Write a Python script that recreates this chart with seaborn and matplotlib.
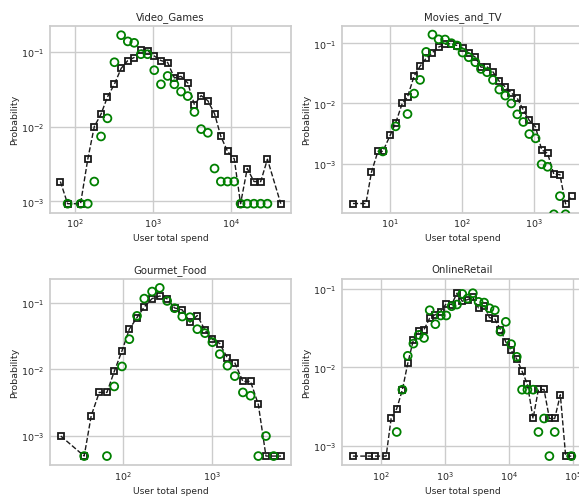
import numpy as np
import pandas as pd
import matplotlib
matplotlib.use("Agg")
import matplotlib.pyplot as plt
import seaborn as sns

sns.set_theme(style="whitegrid")
plt.rcParams['font.family'] = ['DejaVu Sans']

nan = np.nan

# Video_Games
vg_x = [65, 80.5, 118, 146, 177, 216, 261, 321, 391, 476, 575, 700, 853, 1040, 1267, 1545,
        1883, 2293, 2793, 3406, 4150, 5058, 6166, 7430, 9060, 11040, 13300, 16200, 19770,
        24100, 29400, 43600]
vg_sq = [0.00184, 0.00093, 0.00093, 0.00366, 0.0100, 0.0147, 0.0249, 0.0370, 0.0600, 0.0765,
         0.0840, 0.105, 0.104, 0.088, 0.0765, 0.072, 0.0448, 0.047, 0.0384, 0.0196, 0.026,
         0.0222, 0.0149, 0.00738, 0.00465, 0.0037, 0.00093, 0.00275, 0.00184, 0.00184,
         0.00366, 0.00093]
vg_ci = [nan, 0.00093, 0.00093, 0.00093, 0.00184, 0.00738, 0.0129, 0.0726, 0.167, 0.138,
         0.132, 0.093, 0.093, 0.0568, 0.0368, 0.0476, 0.0368, 0.0294, 0.0256, 0.0157, 0.00925,
         0.00826, 0.00275, 0.00184, 0.00184, 0.00184, 0.00093, 0.00093, 0.00093, 0.00093,
         0.00093, nan]

# Movies_and_TV
mv_x = [3.04, 4.6, 5.5, 6.75, 7.9, 10, 11.9, 14.7, 17.4, 21.5, 26, 31.6, 38.6, 47, 57.8, 70.8,
        84.8, 101, 123, 152, 182, 221, 267, 327, 396, 480, 581, 704, 853, 1043, 1265, 1530,
        1870, 2270, 2720, 3290]
mv_sq = [2.19e-4, 2.19e-4, 7.26e-4, 1.6e-3, 1.6e-3, 2.96e-3, 4.75e-3, 0.01, 0.0128, 0.0286,
         0.0415, 0.0564, 0.07, 0.086, 0.096, 0.098, 0.0915, 0.0826, 0.069, 0.0585, 0.04,
         0.0405, 0.0334, 0.0233, 0.0188, 0.015, 0.0122, 0.0078, 0.00525, 0.00407, 0.00171,
         0.00149, 6.7e-4, 6.6e-4, 2.16e-4, 2.9e-4]
mv_ci = [nan, nan, nan, nan, 1.6e-3, nan, 4.17e-3, nan, 6.68e-3, 0.0146, 0.0246, 0.0717,
         0.139, 0.116, 0.115, 0.1, 0.0915, 0.07, 0.0585, 0.0483, 0.0374, 0.033, 0.0246, 0.017,
         0.0135, 0.01, 0.0066, 0.00493, 0.00311, 0.00264, 9.8e-4, 8.9e-4, 1.45e-4, 2.9e-4,
         1.45e-4, nan]

# Gourmet_Food
gf_x = [20.2, 37, 44.4, 54.6, 66.6, 80.5, 98.3, 119, 145, 175, 214, 261, 316, 383, 467, 570,
        689, 841, 1018, 1231, 1503, 1816, 2240, 2730, 3335, 4065, 4960, 6000]
gf_sq = [1e-3, 5e-4, 2.02e-3, 4.52e-3, 4.52e-3, 9.33e-3, 0.019, 0.0403, 0.0603, 0.0871, 0.116,
         0.127, 0.115, 0.084, 0.0785, 0.0513, 0.0646, 0.0389, 0.0285, 0.0245, 0.0148, 0.0126,
         0.0066, 0.0066, 2.99e-3, 5e-4, 5e-4, 5e-4]
gf_ci = [nan, 5e-4, nan, nan, 5e-4, 5.56e-3, 0.0111, 0.0285, 0.0638, 0.116, 0.148, 0.168,
         0.107, 0.0832, 0.0624, 0.061, 0.0403, 0.0351, 0.0257, 0.017, 0.0114, 0.00794,
         4.52e-3, 4.03e-3, 5e-4, 1e-3, 5e-4, nan]

# OnlineRetail
or_x = [36.7, 65.9, 80.7, 121, 145, 177, 217, 263, 322, 390, 472, 578, 708, 857, 1049, 1270,
        1537, 1860, 2250, 2720, 3335, 4080, 4940, 5980, 7330, 8870, 10740, 13150, 15900,
        19270, 23600, 28600, 35000, 42400, 51300, 62800, 76000, 93100]
or_sq = [7.46e-4, 7.46e-4, 7.46e-4, 7.46e-4, 2.24e-3, 2.98e-3, 5.19e-3, 0.0112, 0.0223, 0.0288,
         0.0302, 0.0421, 0.0468, 0.051, 0.0645, 0.0627, 0.0873, 0.069, 0.0724, 0.0776, 0.0569,
         0.0608, 0.0428, 0.0412, 0.0302, 0.021, 0.0165, 0.0127, 8.93e-3, 6.11e-3, 2.24e-3,
         5.23e-3, 5.23e-3, 2.24e-3, 2.24e-3, 4.48e-3, 7.46e-4, 7.46e-4]
or_ci = [nan, nan, nan, nan, nan, 1.51e-3, 5.2e-3, 0.014, 0.02, 0.0258, 0.0236, 0.0531, 0.0353,
         0.0455, 0.0455, 0.0597, 0.0627, 0.0856, 0.0747, 0.0873, 0.0678, 0.0664, 0.0563,
         0.0531, 0.0285, 0.0378, 0.0197, 0.0136, 5.2e-3, 5.2e-3, 5.2e-3, 1.51e-3, 2.24e-3,
         7.46e-4, 1.51e-3, nan, nan, 7.46e-4]

panels = [
    ("Video_Games", vg_x, vg_sq, vg_ci, (47.9, 58900), (7.08e-4, 0.221)),
    ("Movies_and_TV", mv_x, mv_sq, mv_ci, (2.14, 4730), (1.55e-4, 0.192)),
    ("Gourmet_Food", gf_x, gf_sq, gf_ci, (15.3, 7760), (3.67e-4, 0.232)),
    ("OnlineRetail", or_x, or_sq, or_ci, (24.8, 141000), (5.75e-4, 0.134)),
]

fig, axes = plt.subplots(2, 2, figsize=(5.79, 5.02), dpi=100)
# right column runs slightly past the canvas edge, as in the source figure
fig.subplots_adjust(left=0.0864, right=1.0067, top=0.946, bottom=0.0717,
                    wspace=0.2116, hspace=0.354)

for ax, (name, x, sq, ci, xlim, ylim) in zip(axes.flat, panels):
    df = pd.DataFrame({"spend": x, "sq": sq, "ci": ci})
    sns.lineplot(data=df.dropna(subset=["sq"]), x="spend", y="sq", ax=ax, estimator=None,
                 color="#1a1a1a", linestyle="--", linewidth=1.0, marker="s",
                 markersize=4.8, markerfacecolor="none", markeredgecolor="#1a1a1a",
                 markeredgewidth=1.3)
    sns.scatterplot(data=df.dropna(subset=["ci"]), x="spend", y="ci", ax=ax, marker="o",
                    s=32, facecolors="none", edgecolor="green", linewidth=1.3, zorder=3)
    ax.set_xscale("log")
    ax.set_yscale("log")
    ax.set_xlim(*xlim)
    ax.set_ylim(*ylim)
    ax.set_title(name, fontsize=7.3, pad=5)
    ax.set_xlabel("User total spend", fontsize=6.6, labelpad=3)
    ax.set_ylabel("Probability", fontsize=6.8, labelpad=1.5)
    ax.tick_params(axis="both", length=0, labelsize=6.8)
    ax.tick_params(axis="x", pad=3)
    ax.tick_params(axis="y", pad=4)
    ax.minorticks_off()

fig.savefig("out.png", dpi=100)
